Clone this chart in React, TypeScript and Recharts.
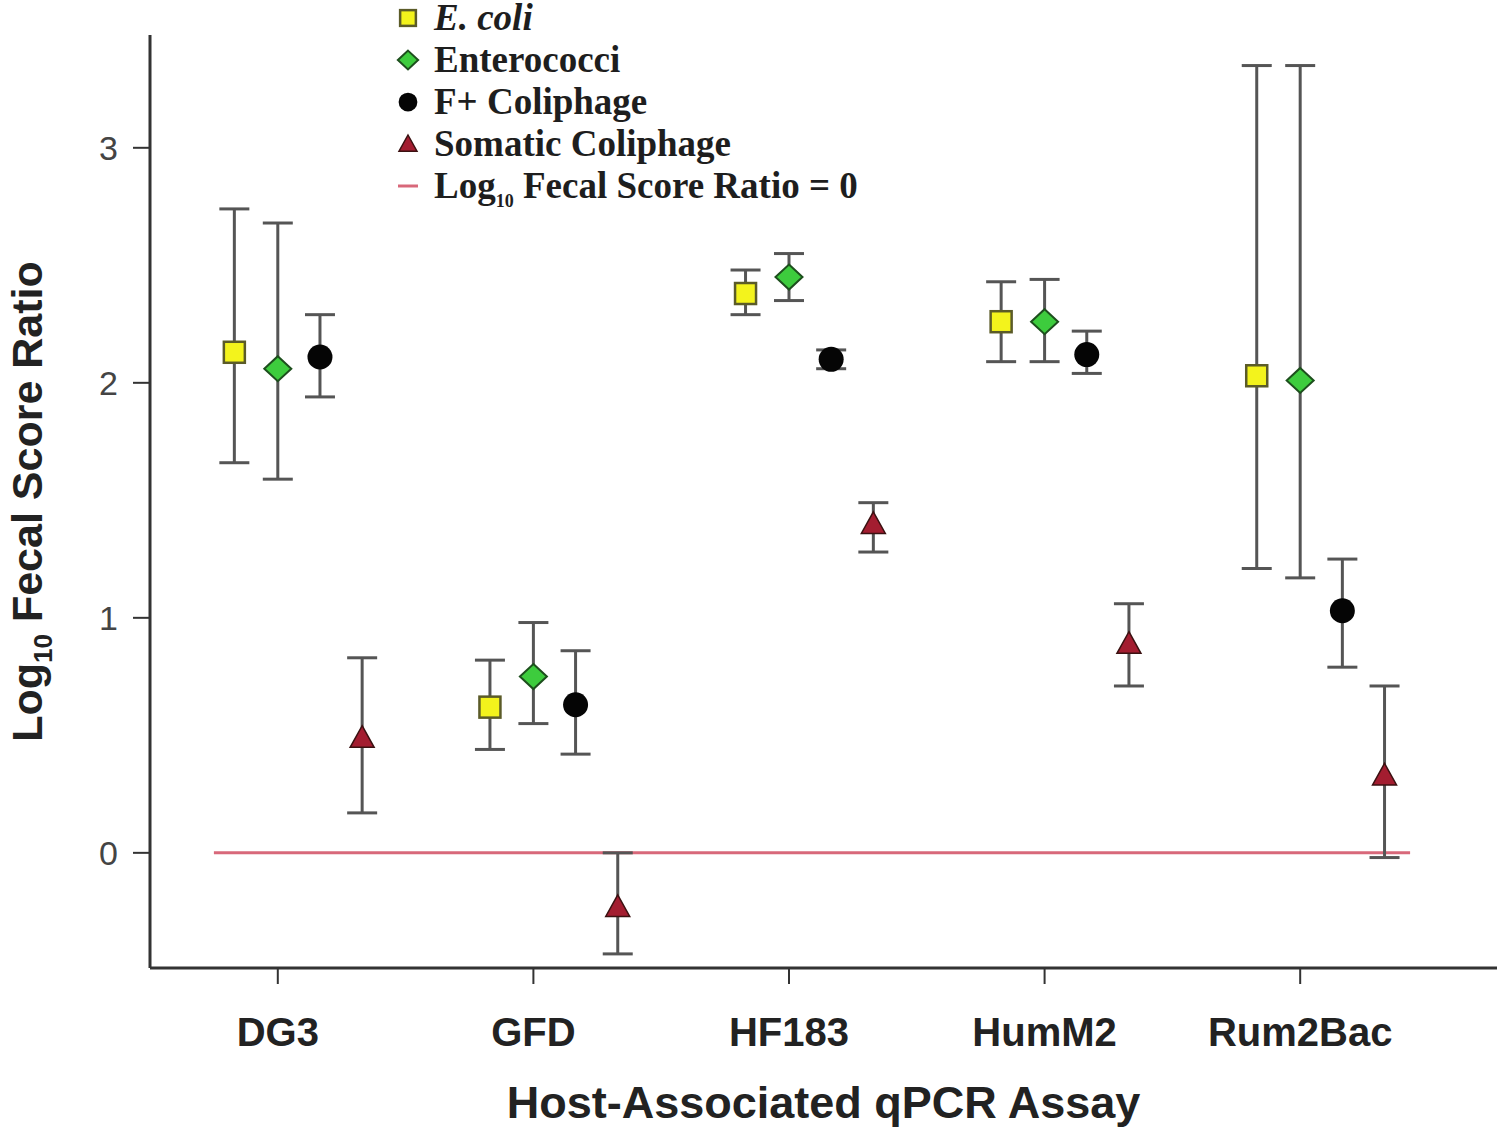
import React from 'react'
import {
  ComposedChart,
  Scatter,
  XAxis,
  YAxis,
  ErrorBar,
  ReferenceLine,
  Legend,
} from 'recharts'

const assays = ['DG3', 'GFD', 'HF183', 'HumM2', 'Rum2Bac']

// log10 fecal score ratio: point, lower end and upper end of the error bar
const ecoliMean = [2.13, 0.62, 2.38, 2.26, 2.03]
const ecoliLow = [1.66, 0.44, 2.29, 2.09, 1.21]
const ecoliHigh = [2.74, 0.82, 2.48, 2.43, 3.35]

const enteroMean = [2.06, 0.75, 2.45, 2.26, 2.01]
const enteroLow = [1.59, 0.55, 2.35, 2.09, 1.17]
const enteroHigh = [2.68, 0.98, 2.55, 2.44, 3.35]

const fplusMean = [2.11, 0.63, 2.1, 2.12, 1.03]
const fplusLow = [1.94, 0.42, 2.06, 2.04, 0.79]
const fplusHigh = [2.29, 0.86, 2.14, 2.22, 1.25]

const somaticMean = [0.49, -0.23, 1.4, 0.89, 0.33]
const somaticLow = [0.17, -0.43, 1.28, 0.71, -0.02]
const somaticHigh = [0.83, 0.0, 1.49, 1.06, 0.71]

const yTicks = [0, 1, 2, 3]

type Kind = 'square' | 'diamond' | 'circle' | 'triangle'

const series: {
  key: string
  name: string
  kind: Kind
  italic?: boolean
  dodge: number
  mean: number[]
  low: number[]
  high: number[]
}[] = [
  { key: 'ecoli', name: 'E. coli', kind: 'square', italic: true, dodge: -0.17, mean: ecoliMean, low: ecoliLow, high: ecoliHigh },
  { key: 'entero', name: 'Enterococci', kind: 'diamond', dodge: 0, mean: enteroMean, low: enteroLow, high: enteroHigh },
  { key: 'fplus', name: 'F+ Coliphage', kind: 'circle', dodge: 0.165, mean: fplusMean, low: fplusLow, high: fplusHigh },
  { key: 'somatic', name: 'Somatic Coliphage', kind: 'triangle', dodge: 0.33, mean: somaticMean, low: somaticLow, high: somaticHigh },
]

const rowsFor = (s: (typeof series)[number]) =>
  assays.map((_, i) => ({
    x: i + 1 + s.dodge,
    y: s.mean[i],
    err: [s.mean[i] - s.low[i], s.high[i] - s.mean[i]],
  }))

function Marker({ cx, cy, kind, k = 1 }: { cx: number; cy: number; kind: Kind; k?: number }) {
  if (cx == null || cy == null) return null
  if (kind === 'square') {
    const h = 10.5 * k
    return <rect x={cx - h} y={cy - h} width={2 * h} height={2 * h} fill="#f3f31c" stroke="#5b5b28" strokeWidth={2.5} />
  }
  if (kind === 'diamond') {
    const w = 13.5 * k
    const h = 12.5 * k
    return (
      <polygon
        points={`${cx},${cy - h} ${cx + w},${cy} ${cx},${cy + h} ${cx - w},${cy}`}
        fill="#3dcc3d"
        stroke="#1d4f1d"
        strokeWidth={2}
      />
    )
  }
  if (kind === 'circle') {
    return <circle cx={cx} cy={cy} r={12.5 * k} fill="#050505" />
  }
  const t = 12 * k
  return (
    <polygon
      points={`${cx},${cy - t} ${cx + t},${cy + 0.8 * t} ${cx - t},${cy + 0.8 * t}`}
      fill="#a31d30"
      stroke="#3b1111"
      strokeWidth={1.5}
    />
  )
}

const rowStyle: React.CSSProperties = {
  display: 'flex',
  alignItems: 'center',
  height: 42,
  lineHeight: '34px',
  overflow: 'visible',
}

function LegendBox() {
  return (
    <div
      style={{
        fontFamily: '"Liberation Serif", "Times New Roman", serif',
        fontWeight: 'bold',
        fontSize: 37,
        color: '#1e1e1e',
        whiteSpace: 'nowrap',
      }}
    >
      {series.map((s) => (
        <div key={s.key} style={rowStyle}>
          <svg width={28} height={28} style={{ flex: 'none' }}>
            <Marker cx={14} cy={14} kind={s.kind} k={0.75} />
          </svg>
          <span style={{ marginLeft: 12, fontStyle: s.italic ? 'italic' : 'normal' }}>{s.name}</span>
        </div>
      ))}
      <div style={rowStyle}>
        <svg width={28} height={28} style={{ flex: 'none' }}>
          <line x1={4} x2={24} y1={14} y2={14} stroke="#d8687a" strokeWidth={3} />
        </svg>
        <span style={{ marginLeft: 12 }}>
          Log
          <span style={{ fontSize: 18, position: 'relative', top: 9, lineHeight: 0 }}>10</span> Fecal Score Ratio = 0
        </span>
      </div>
    </div>
  )
}

function YTitle({ viewBox }: any) {
  const cy = viewBox ? viewBox.y + viewBox.height / 2 : 501
  const x = 42
  return (
    <text
      x={x}
      y={cy}
      transform={`rotate(-90, ${x}, ${cy})`}
      textAnchor="middle"
      fontSize={43}
      fontWeight="bold"
      fill="#222"
    >
      <tspan>Log</tspan>
      <tspan fontSize={26} dy={10}>10</tspan>
      <tspan dy={-10}> Fecal Score Ratio</tspan>
    </text>
  )
}

export default function App() {
  return (
    <div style={{ position: 'absolute', left: 0, top: 0, background: '#fff' }}>
      <ComposedChart
        width={1500}
        height={1134}
        margin={{ top: 35, right: 3, bottom: 0, left: 0 }}
        style={{ fontFamily: '"Liberation Sans", Arial, sans-serif' }}
      >
        <XAxis
          type="number"
          dataKey="x"
          domain={[0.5, 5.77]}
          ticks={[1, 2, 3, 4, 5]}
          allowDataOverflow
          tickFormatter={(v: number) => assays[Math.round(v) - 1] ?? ''}
          height={166}
          tickSize={16}
          tickMargin={34}
          axisLine={{ stroke: '#333', strokeWidth: 3 }}
          tickLine={{ stroke: '#333', strokeWidth: 2 }}
          tick={{ fontSize: 40, fontWeight: 'bold', fill: '#222' }}
          label={{
            value: 'Host-Associated qPCR Assay',
            position: 'insideBottom',
            offset: 16,
            fontSize: 45,
            fontWeight: 'bold',
            fill: '#222',
          }}
        />
        <YAxis
          type="number"
          domain={[-0.49, 3.48]}
          ticks={yTicks}
          allowDataOverflow
          width={150}
          tickSize={17}
          tickMargin={15}
          axisLine={{ stroke: '#333', strokeWidth: 3 }}
          tickLine={{ stroke: '#333', strokeWidth: 2 }}
          tick={{ fontSize: 34, fill: '#444' }}
          label={<YTitle />}
        />
        <ReferenceLine
          segment={[
            { x: 0.75, y: 0 },
            { x: 5.43, y: 0 },
          ]}
          stroke="#d8687a"
          strokeWidth={3}
        />
        {series.map((s) => (
          <Scatter
            key={s.key}
            name={s.name}
            data={rowsFor(s)}
            dataKey="y"
            isAnimationActive={false}
            shape={(p: any) => <Marker cx={p.cx} cy={p.cy} kind={s.kind} />}
          >
            <ErrorBar dataKey="err" direction="y" width={15} stroke="#555" strokeWidth={3} />
          </Scatter>
        ))}
        <Legend
          layout="vertical"
          align="center"
          verticalAlign="middle"
          content={() => <LegendBox />}
          wrapperStyle={{ left: 394, top: -3, width: 560, height: 210 }}
        />
      </ComposedChart>
    </div>
  )
}
